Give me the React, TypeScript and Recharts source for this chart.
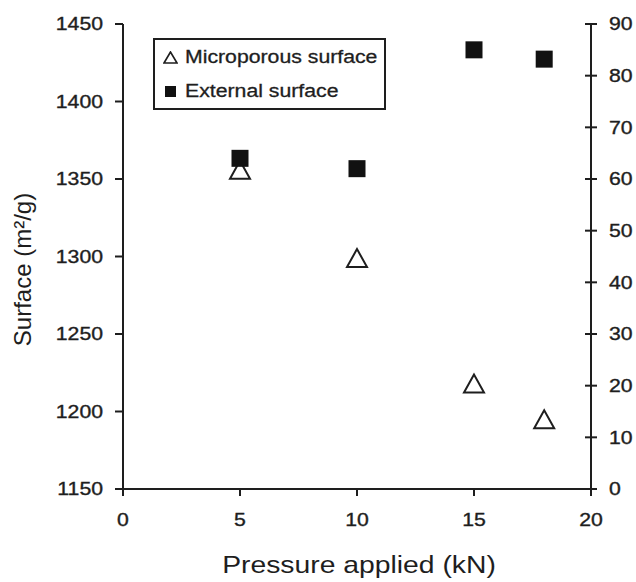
import React from 'react';
import { ScatterChart, Scatter, XAxis, YAxis, Legend } from 'recharts';

const pressure = [5, 10, 15, 18];
const microporous = [1356, 1299, 1218, 1195];
const external = [64, 62, 85, 83.2];

const xTicks = [0, 5, 10, 15, 20];
const leftTicks = [1150, 1200, 1250, 1300, 1350, 1400, 1450];
const rightTicks = [0, 10, 20, 30, 40, 50, 60, 70, 80, 90];

const microData = pressure.map((x, i) => ({ x, y: microporous[i] }));
const externalData = pressure.map((x, i) => ({ x, y: external[i] }));

const FONT = '"Liberation Sans", Arial, Helvetica, sans-serif';
const INK = '#1e1e1e';
const SX = 1.18; // the reference text is stretched horizontally

const Triangle = (props: any) => {
  const { cx, cy } = props;
  if (cx == null || cy == null) return null;
  return (
    <polygon
      points={`${cx},${cy - 9} ${cx - 10},${cy + 9} ${cx + 10},${cy + 9}`}
      fill="#fff"
      stroke={INK}
      strokeWidth={2}
    />
  );
};

const Square = (props: any) => {
  const { cx, cy } = props;
  if (cx == null || cy == null) return null;
  return <rect x={cx - 8.5} y={cy - 8.5} width={17} height={17} fill="#111" />;
};

const tickText = { fontSize: 18, fontFamily: FONT, fill: INK, stroke: INK, strokeWidth: 0.35 };

const LeftTick = ({ x, y, payload }: any) => (
  <g transform={`translate(${x},${y}) scale(${SX},1)`}>
    <text x={0} y={0} dy="0.36em" textAnchor="end" {...tickText}>
      {payload.value}
    </text>
  </g>
);

const RightTick = ({ x, y, payload }: any) => {
  const ax = x - 18;
  return (
    <g>
      <line x1={ax - 6} x2={ax + 6} y1={y} y2={y} stroke={INK} strokeWidth={2} />
      <g transform={`translate(${x},${y}) scale(${SX},1)`}>
        <text x={0} y={0} dy="0.36em" textAnchor="start" {...tickText}>
          {payload.value}
        </text>
      </g>
    </g>
  );
};

const BottomTick = ({ x, y, payload }: any) => (
  <g transform={`translate(${x},${y}) scale(${SX},1)`}>
    <text x={0} y={0} dy="0.71em" textAnchor="middle" {...tickText}>
      {payload.value}
    </text>
  </g>
);

const XTitle = (props: any) => {
  const vb = props.viewBox || { x: 123, y: 489, width: 468, height: 93 };
  return (
    <g transform={`translate(${vb.x + vb.width / 2 + 2},${vb.y + 84}) scale(${SX},1)`}>
      <text x={0} y={0} textAnchor="middle" fontSize={24} fontFamily={FONT} fill={INK}>
        Pressure applied (kN)
      </text>
    </g>
  );
};

const YTitle = (props: any) => {
  const vb = props.viewBox || { x: 0, y: 24, width: 123, height: 465 };
  return (
    <g transform={`translate(31,${vb.y + vb.height / 2 + 13}) rotate(-90)`}>
      <text x={0} y={0} textAnchor="middle" fontSize={24} fontFamily={FONT} fill={INK}>
        Surface (m²/g)
      </text>
    </g>
  );
};

const legendText: React.CSSProperties = {
  display: 'inline-block',
  transform: `scaleX(${SX})`,
  transformOrigin: 'left center',
  whiteSpace: 'nowrap',
  WebkitTextStroke: `0.3px ${INK}`,
};

const LegendBox = () => (
  <div
    style={{
      width: 229,
      height: 68,
      border: `2px solid ${INK}`,
      background: '#fff',
      fontFamily: FONT,
      fontSize: 18,
      color: INK,
      boxSizing: 'content-box',
    }}
  >
    <div style={{ display: 'flex', alignItems: 'center', height: 34, paddingLeft: 8 }}>
      <svg width={15} height={13} style={{ marginRight: 7 }}>
        <polygon points="7.5,1 1,12 14,12" fill="#fff" stroke={INK} strokeWidth={1.6} />
      </svg>
      <span style={legendText}>Microporous surface</span>
    </div>
    <div style={{ display: 'flex', alignItems: 'center', height: 34, paddingLeft: 8 }}>
      <svg width={15} height={13} style={{ marginRight: 7 }}>
        <rect x={2} y={1} width={11} height={11} fill="#111" />
      </svg>
      <span style={legendText}>External surface</span>
    </div>
  </div>
);

export default function App() {
  return (
    <div style={{ position: 'absolute', left: 0, top: 0, width: 636, height: 582, background: '#fff' }}>
      <ScatterChart width={636} height={582} margin={{ top: 24, right: 0, bottom: 0, left: 0 }}>
        <XAxis
          type="number"
          dataKey="x"
          domain={[0, 20]}
          ticks={xTicks}
          height={93}
          axisLine={{ stroke: INK, strokeWidth: 2 }}
          tickLine={{ stroke: INK, strokeWidth: 2 }}
          tickSize={7}
          tickMargin={17}
          tick={<BottomTick />}
          label={<XTitle />}
        />
        <YAxis
          yAxisId="left"
          type="number"
          dataKey="y"
          domain={[1150, 1450]}
          ticks={leftTicks}
          width={123}
          axisLine={{ stroke: INK, strokeWidth: 2 }}
          tickLine={{ stroke: INK, strokeWidth: 2 }}
          tickSize={8}
          tickMargin={12}
          tick={<LeftTick />}
          label={<YTitle />}
        />
        <YAxis
          yAxisId="right"
          orientation="right"
          type="number"
          dataKey="y"
          domain={[0, 90]}
          ticks={rightTicks}
          width={45}
          axisLine={{ stroke: INK, strokeWidth: 2 }}
          tickLine={false}
          tickSize={6}
          tickMargin={12}
          tick={<RightTick />}
        />
        <Legend
          layout="vertical"
          align="center"
          verticalAlign="middle"
          wrapperStyle={{ left: 153, top: 38, width: 'auto' }}
          content={() => <LegendBox />}
        />
        <Scatter
          name="Microporous surface"
          data={microData}
          yAxisId="left"
          shape={Triangle}
          isAnimationActive={false}
        />
        <Scatter
          name="External surface"
          data={externalData}
          yAxisId="right"
          shape={Square}
          isAnimationActive={false}
        />
      </ScatterChart>
    </div>
  );
}
